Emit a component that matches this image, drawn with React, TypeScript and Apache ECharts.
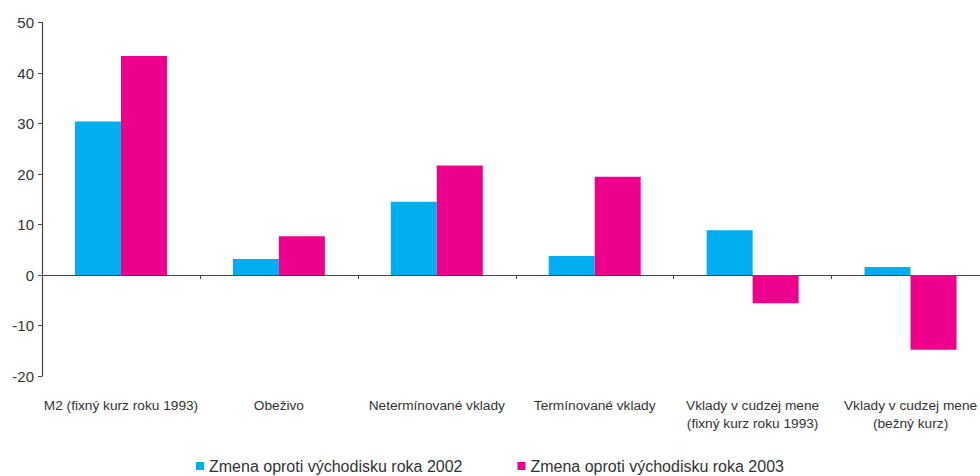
import React, { useEffect, useRef } from "react";
import * as echarts from "echarts";

const categories = [
  "M2 (fixný kurz roku 1993)",
  "Obeživo",
  "Netermínované vklady",
  "Termínované vklady",
  "Vklady v cudzej mene\n(fixný kurz roku 1993)",
  "Vklady v cudzej mene\n(bežný kurz)",
];
const series2002Name = "Zmena oproti východisku roka 2002";
const series2003Name = "Zmena oproti východisku roka 2003";
const values2002 = [30.4, 3.2, 14.5, 3.8, 8.9, 1.6];
const values2003 = [43.4, 7.7, 21.7, 19.5, -5.6, -14.8];
const yMin = -20;
const yMax = 50;
const yInterval = 10;

const FONT = "'Liberation Sans', Arial, Helvetica, sans-serif";
const TEXT = "#333333";
const AXIS = "#444444";

export default function App() {
  const ref = useRef<HTMLDivElement>(null);
  useEffect(() => {
    if (!ref.current) return;
    const chart = echarts.init(ref.current, undefined, { renderer: "svg" });
    chart.setOption({
      animation: false,
      backgroundColor: "#ffffff",
      textStyle: { fontFamily: FONT },
      grid: {
        left: 42,
        top: 22.7,
        width: 947.5,
        height: 353.3,
        outerBoundsMode: "none",
        containLabel: false,
      },
      legend: {
        data: [series2002Name, series2003Name],
        left: 196,
        top: 458,
        padding: 0,
        itemWidth: 8,
        itemHeight: 8,
        itemGap: 55,
        icon: "rect",
        textStyle: { fontSize: 16, color: TEXT, fontFamily: FONT },
      },
      xAxis: [
        {
          type: "category",
          data: categories,
          position: "bottom",
          axisLine: { show: false, onZero: false },
          axisTick: { show: false },
          axisLabel: {
            interval: 0,
            fontSize: 13.7,
            lineHeight: 18,
            color: TEXT,
            margin: 20,
            fontFamily: FONT,
          },
        },
        {
          type: "category",
          data: categories,
          position: "bottom",
          axisLine: { show: true, onZero: true, lineStyle: { color: AXIS, width: 1.2 } },
          axisTick: { show: true, interval: 0, length: 4, lineStyle: { color: AXIS } },
          axisLabel: { show: false },
        },
      ],
      yAxis: {
        type: "value",
        min: yMin,
        max: yMax,
        interval: yInterval,
        splitLine: { show: false },
        axisLine: { show: true, lineStyle: { color: AXIS, width: 1.2 } },
        axisTick: { show: true, length: 4, lineStyle: { color: AXIS } },
        axisLabel: { fontSize: 15, color: TEXT, margin: 8, fontFamily: FONT },
      },
      series: [
        {
          name: series2002Name,
          type: "bar",
          data: values2002,
          barWidth: 46,
          barGap: "0%",
          itemStyle: { color: "#00AEEF" },
        },
        {
          name: series2003Name,
          type: "bar",
          data: values2003,
          barWidth: 46,
          barGap: "0%",
          itemStyle: { color: "#EC008C" },
        },
      ],
    });
    return () => chart.dispose();
  }, []);
  return (
    <div
      ref={ref}
      style={{ position: "absolute", left: 0, top: 0, width: 980, height: 476 }}
    />
  );
}
